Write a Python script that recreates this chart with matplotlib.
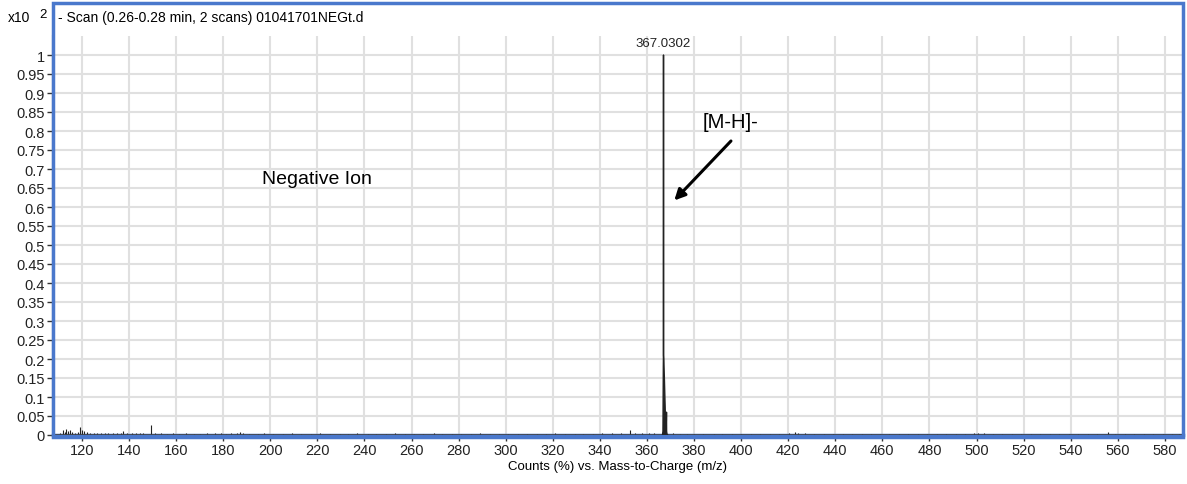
import matplotlib.pyplot as plt
from matplotlib.patches import Rectangle

plt.rcParams['font.family'] = ['Liberation Sans', 'DejaVu Sans']

# Main [M-H]- peak profile (m/z, relative counts x10^2)
peak_mz = [366.6, 366.8, 366.95, 367.0, 367.03, 367.06, 367.15, 367.4, 367.7, 367.95, 368.1, 368.25, 368.3, 368.35, 368.5, 368.8]
peak_int = [0.0, 0.01, 0.18, 0.21, 1.0, 0.21, 0.20, 0.15, 0.08, 0.02, 0.01, 0.04, 0.06, 0.01, 0.003, 0.0]

# Small background sticks
noise_mz = [110.5, 111.8, 112.6, 113.4, 114.2, 115.1, 115.9, 117.0, 118.4, 119.2, 120.1, 121.0, 122.3,
            123.5, 125.0, 126.4, 128.1, 129.6, 131.0, 133.2, 135.0, 136.4, 137.6, 139.0, 141.2, 143.0,
            144.8, 146.1, 149.3, 151.0, 153.4, 156.0, 158.7, 161.2, 164.0, 167.5, 170.1, 173.0, 176.4,
            179.2, 181.0, 183.5, 185.9, 187.1, 188.4, 191.0, 194.6, 197.2, 201.0, 205.3, 209.1, 213.0,
            217.2, 221.0, 225.4, 229.8, 233.1, 237.0, 241.5, 245.0, 249.2, 253.0, 257.3, 261.1, 265.0,
            269.4, 273.0, 277.1, 281.0, 285.2, 289.0, 293.3, 297.0, 301.1, 305.4, 309.0, 313.2, 317.0,
            321.1, 325.0, 329.3, 333.0, 337.2, 341.0, 345.0, 349.1, 352.6, 355.0, 358.1, 361.0, 363.2,
            371.0, 374.2, 377.0, 380.1, 384.0, 388.3, 392.0, 396.1, 400.0, 404.2, 408.0, 412.1, 416.0,
            420.2, 422.8, 424.0, 427.1, 431.0, 435.2, 439.0, 443.1, 447.0, 451.2, 455.0, 459.1, 463.0,
            467.2, 471.0, 475.1, 479.0, 483.2, 487.0, 491.1, 495.0, 499.0, 500.5, 503.0, 507.1, 511.0,
            515.2, 519.0, 523.1, 527.0, 531.2, 535.0, 539.1, 543.0, 547.2, 551.0, 555.9, 559.0, 563.1,
            567.0, 571.2, 575.0, 579.1, 583.0, 586.0]
noise_int = [0.006, 0.012, 0.008, 0.016, 0.010, 0.013, 0.007, 0.006, 0.009, 0.020, 0.014, 0.011, 0.009,
             0.006, 0.005, 0.004, 0.004, 0.005, 0.004, 0.004, 0.004, 0.005, 0.010, 0.005, 0.004, 0.006,
             0.005, 0.006, 0.026, 0.005, 0.004, 0.003, 0.004, 0.003, 0.004, 0.003, 0.003, 0.004, 0.004,
             0.005, 0.003, 0.004, 0.006, 0.009, 0.005, 0.003, 0.003, 0.004, 0.003, 0.003, 0.004, 0.003,
             0.003, 0.004, 0.003, 0.003, 0.003, 0.004, 0.003, 0.003, 0.003, 0.004, 0.003, 0.003, 0.003,
             0.004, 0.003, 0.003, 0.003, 0.003, 0.004, 0.003, 0.003, 0.003, 0.003, 0.003, 0.003, 0.003,
             0.004, 0.003, 0.003, 0.003, 0.003, 0.004, 0.005, 0.004, 0.012, 0.005, 0.004, 0.004, 0.005,
             0.004, 0.003, 0.003, 0.003, 0.003, 0.003, 0.003, 0.003, 0.003, 0.003, 0.003, 0.003, 0.003,
             0.004, 0.008, 0.006, 0.004, 0.003, 0.003, 0.003, 0.003, 0.003, 0.003, 0.003, 0.003, 0.003,
             0.003, 0.003, 0.003, 0.003, 0.003, 0.003, 0.003, 0.003, 0.005, 0.006, 0.004, 0.003, 0.003,
             0.003, 0.003, 0.003, 0.003, 0.003, 0.003, 0.003, 0.003, 0.003, 0.003, 0.008, 0.003, 0.003,
             0.003, 0.003, 0.003, 0.003, 0.003, 0.003]

x_ticks = list(range(120, 581, 20))
y_ticks = [0, 0.05, 0.1, 0.15, 0.2, 0.25, 0.3, 0.35, 0.4, 0.45, 0.5, 0.55, 0.6,
           0.65, 0.7, 0.75, 0.8, 0.85, 0.9, 0.95, 1]
y_labels = ['0', '0.05', '0.1', '0.15', '0.2', '0.25', '0.3', '0.35', '0.4', '0.45', '0.5', '0.55',
            '0.6', '0.65', '0.7', '0.75', '0.8', '0.85', '0.9', '0.95', '1']

W, H = 1187, 485
fig = plt.figure(figsize=(W / 100, H / 100), dpi=100)
ax = fig.add_axes([53 / W, 1 - 436 / H, (1183 - 53) / W, (436 - 37) / H])

# Spectrum
ax.vlines(noise_mz, 0, noise_int, color='#222222', linewidth=0.8, zorder=3)
ax.axhline(0, color='#444444', linewidth=1.2, zorder=3)
ax.plot(peak_mz, peak_int, color='#222222', linewidth=1.0, zorder=4)
ax.fill(peak_mz, peak_int, color='#222222', linewidth=0, zorder=4)

ax.set_xlim(107.7, 587.7)
ax.set_ylim(0, 1.05)
ax.set_xticks(x_ticks)
ax.set_yticks(y_ticks)
ax.set_yticklabels(y_labels)
ax.tick_params(labelsize=10.5, length=4, width=1, color='#333333', labelcolor='#222222', pad=2)
ax.grid(True, color='#e0e0e0', linewidth=1.5, zorder=0)
ax.set_axisbelow(True)
for s in ['top', 'right']:
    ax.spines[s].set_visible(False)
ax.spines['left'].set_color('#333333')
ax.spines['bottom'].set_color('#4a78cc')
ax.spines['left'].set_linewidth(1.5)
ax.spines['bottom'].set_linewidth(2.5)
ax.set_xlabel('Counts (%) vs. Mass-to-Charge (m/z)', fontsize=9.5, labelpad=2)

# Annotations
ax.text(367.03, 1.015, '367.0302', ha='center', va='bottom', fontsize=9.5, color='#222222')
ax.text(220, 0.674, 'Negative Ion', ha='center', va='center', fontsize=14)
ax.text(395.5, 0.824, '[M-H]-', ha='center', va='center', fontsize=14.5)
ax.annotate('', xy=(370.8, 0.612), xytext=(396.5, 0.779),
            arrowprops=dict(arrowstyle='-|>', color='black', lw=2.2, mutation_scale=16))

# Outer blue frame and header
fig.patches.append(Rectangle((53 / W, 1 - 438 / H), (1183 - 53) / W, (438 - 4) / H,
                             transform=fig.transFigure, fill=False, edgecolor='#4a78cc',
                             linewidth=2.5, zorder=10))
fig.text(8 / W, 1 - 18 / H, 'x10', fontsize=10, va='center', ha='left')
fig.text(39 / W, 1 - 15 / H, '2', fontsize=9.5, va='center', ha='left')
fig.text(58 / W, 1 - 18 / H, '- Scan (0.26-0.28 min, 2 scans) 01041701NEGt.d', fontsize=10,
         va='center', ha='left')

fig.savefig('out.png', dpi=100)
